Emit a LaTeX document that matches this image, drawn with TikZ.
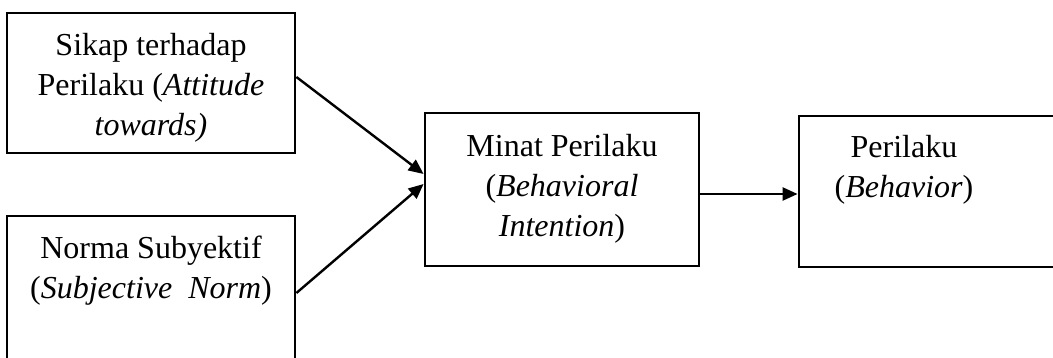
\documentclass[tikz,border=0pt]{standalone}
\usepackage{fontspec}
\setmainfont{Liberation Serif}
\usetikzlibrary{arrows.meta}
\tikzset{
  boxst/.style={draw, line width=2.8pt, rectangle, inner sep=0pt},
  txt/.style={anchor=north, align=center, inner sep=0pt, font=\fontsize{32}{40}\selectfont},
  arr/.style={line width=2.4pt, -{Triangle[length=15pt,width=13pt]}}
}
\begin{document}
\begin{tikzpicture}[x=1pt,y=-1pt]
\useasboundingbox (0,0) rectangle (1053,358);
\clip (0,0) rectangle (1053,358);
\node[boxst, minimum width=288pt, minimum height=140pt] (b1) at (151,83) {};
\node[boxst, minimum width=288pt, minimum height=150pt] (b2) at (151,291) {};
\node[boxst, minimum width=274pt, minimum height=153pt] (b3) at (562,189.5) {};
\node[boxst, minimum width=260pt, minimum height=151pt] (b4) at (929,191.5) {};
\node[txt] (t1) at (151,33) {Sikap terhadap\\Perilaku (\textit{Attitude}\\\textit{towards)}};
\node[txt] (t2) at (151,236) {Norma Subyektif\\(\textit{Subjective\ \ Norm})};
\node[txt] (t3) at (562,134) {Minat Perilaku\\(\textit{Behavioral}\\\textit{Intention})};
\node[txt] (t5) at (904,135) {Perilaku\\(\textit{Behavior})};
\coordinate (s1) at (b1.east |- 0,77);
\coordinate (e1) at (b3.west |- 0,174);
\coordinate (s2) at (b2.east |- 0,293);
\coordinate (e2) at (b3.west |- 0,184);
\coordinate (s3) at (b3.east |- 0,194);
\coordinate (e3) at (b4.west |- 0,194);
\draw[arr] (s1) -- (e1);
\draw[arr] (s2) -- (e2);
\draw[arr] (s3) -- (e3);
\end{tikzpicture}
\end{document}
